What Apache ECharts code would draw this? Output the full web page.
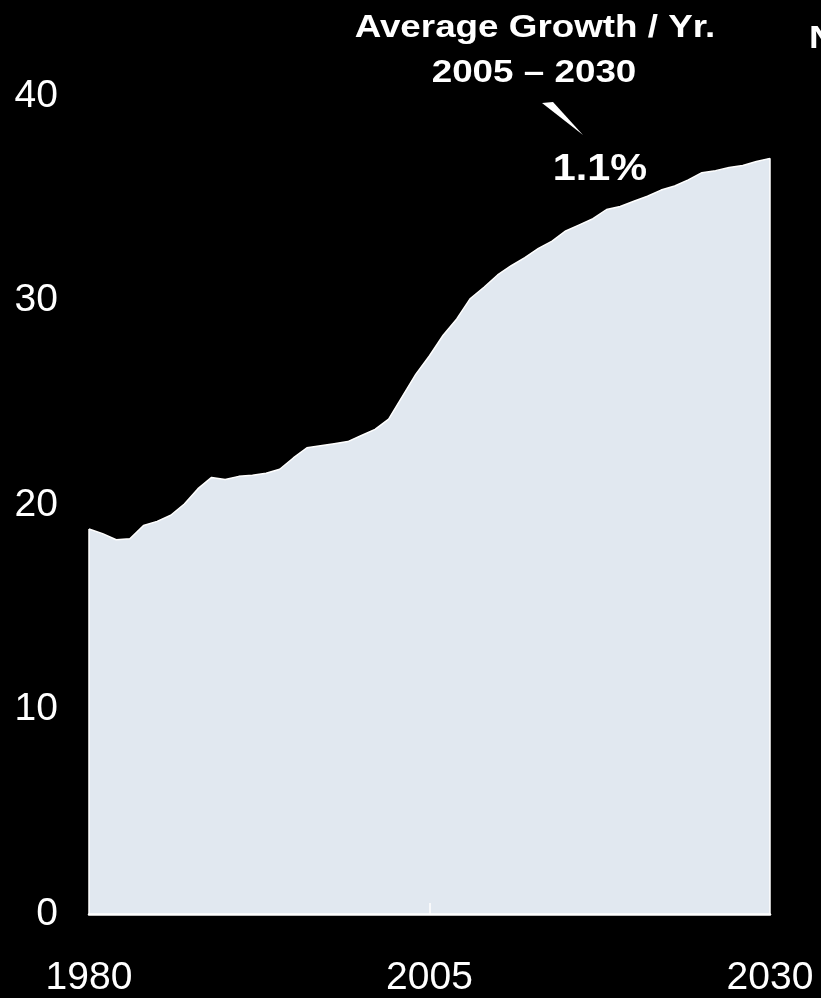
<!DOCTYPE html>
<html>
<head>
<meta charset="utf-8">
<script src="https://cdn.jsdelivr.net/npm/echarts@6/dist/echarts.min.js"></script>
<style>
  html, body { margin: 0; padding: 0; background: #000; }
  #chart { width: 821px; height: 998px; }
</style>
</head>
<body>
<div id="chart"></div>
<script>
// Years on the horizontal axis
const years = [];
for (let y = 1980; y <= 2030; y++) years.push(String(y));

// Annual values, history plus outlook
const values = [
  18.83, 18.6, 18.3, 18.35, 19.0, 19.2, 19.5, 20.05, 20.8, 21.35,
  21.25, 21.4, 21.45, 21.55, 21.75, 22.3, 22.8, 22.9, 23.0, 23.1,
  23.4, 23.7, 24.2, 25.3, 26.4, 27.3, 28.3, 29.1, 30.1, 30.65,
  31.25, 31.7, 32.1, 32.55, 32.9, 33.4, 33.7, 34.0, 34.45, 34.6,
  34.85, 35.1, 35.4, 35.6, 35.9, 36.25, 36.35, 36.5, 36.6, 36.8,
  36.95
];

// Labelled years on the x axis
const xTickLabels = ['1980', '2005', '2030'];
const tickYear = '2005';

// Callout text
const calloutTitle = 'Average Growth / Yr.';
const calloutRange = '2005 \u2013 2030';
const calloutValue = '1.1%';
const headingText = 'N';

const chart = echarts.init(document.getElementById('chart'));

const font = "'Liberation Sans', Arial, sans-serif";
const boldText = (x, y, text, size, align) => ({
  type: 'text',
  x: x, y: y,
  scaleX: 1.15,
  style: {
    x: 0, y: 0,
    text: text,
    fill: '#fff',
    font: 'bold ' + size + 'px ' + font,
    textAlign: align || 'center',
    textVerticalAlign: 'middle'
  }
});

chart.setOption({
  backgroundColor: '#000',
  animation: false,
  grid: { left: 89, right: 51, top: 96, bottom: 80 },
  xAxis: {
    type: 'category',
    data: years,
    boundaryGap: false,
    z: 5,
    axisLine: { show: true, lineStyle: { color: '#fff', width: 2.5 } },
    axisTick: {
      show: true,
      inside: true,
      length: 11,
      interval: (i, v) => v === tickYear,
      lineStyle: { color: '#fff', width: 1.5 }
    },
    axisLabel: {
      interval: (i, v) => xTickLabels.indexOf(v) >= 0,
      color: '#fff',
      fontFamily: font,
      fontSize: 39,
      margin: 45,
      showMinLabel: true,
      showMaxLabel: true
    },
    splitLine: { show: false }
  },
  yAxis: {
    type: 'value',
    min: 0,
    max: 40,
    interval: 10,
    axisLine: { show: false },
    axisTick: { show: false },
    splitLine: { show: false },
    axisLabel: {
      color: '#fff',
      fontFamily: font,
      fontSize: 39,
      margin: 31
    }
  },
  series: [{
    type: 'line',
    data: values,
    symbol: 'none',
    smooth: false,
    lineStyle: { color: '#fff', width: 1.5 },
    areaStyle: { color: '#e1e8f0', opacity: 1 },
    z: 2,
    markLine: {
      silent: true,
      symbol: ['none', 'none'],
      label: { show: false },
      lineStyle: { color: '#fff', width: 1.5, type: 'solid' },
      data: [
        [{ coord: [years[0], 0] }, { coord: [years[0], values[0]] }],
        [{ coord: [years[years.length - 1], 0] }, { coord: [years[years.length - 1], values[values.length - 1]] }]
      ]
    }
  }],
  graphic: [
    boldText(535, 28, calloutTitle, 32),
    boldText(534, 73, calloutRange, 32),
    boldText(600, 170, calloutValue, 36),
    boldText(809, 39, headingText, 32, 'left'),
    {
      type: 'polygon',
      shape: { points: [[542, 103], [553, 102], [583, 135]] },
      style: { fill: '#fff' }
    }
  ]
});
</script>
</body>
</html>
